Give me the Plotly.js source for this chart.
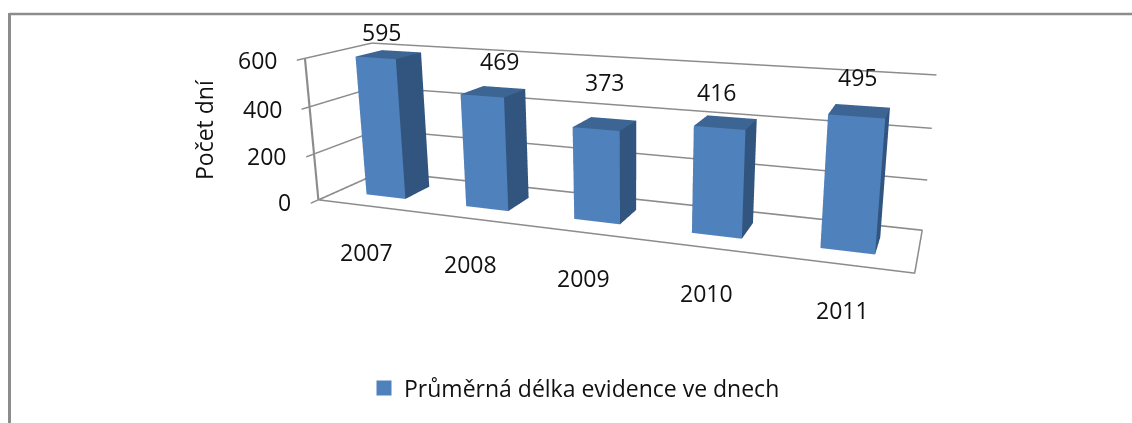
<!DOCTYPE html>
<html><head><meta charset="utf-8">
<script src="https://cdn.plot.ly/plotly-3.0.1.min.js"></script>
<style>html,body{margin:0;padding:0;background:#fff;overflow:hidden;width:1132px;height:423px}#c{position:absolute;left:0;top:-230px}</style></head>
<body><div id="c"></div>
<script>
const years = ['2007','2008','2009','2010','2011'];
const days = [595,469,373,416,495];
const seriesName = 'Průměrná délka evidence ve dnech';
const axisTitle = 'Počet dní';
const yTicks = [0,200,400,600];
const faceColor = '#4F81BD', sideColor = '#32557F', topColor = '#3C6594', lineColor = '#8C8C8C';
const fontFamily = 'Open Sans, Noto Sans, sans-serif', fontSize = 23;
const OY = 230, PW = 1140, PH = 790;
const hw = 0.1996, hd = 0.2045;
const px = x => x/PW, py = y => 1-(y+OY)/PH;
const X=[],Y=[],Z=[],I=[],J=[],K=[],FC=[];
days.forEach((v,n)=>{
  const b=X.length;
  [[-1,-1,0],[1,-1,0],[1,1,0],[-1,1,0],[-1,-1,1],[1,-1,1],[1,1,1],[-1,1,1]].forEach(p=>{
    X.push(n+p[0]*hw);Y.push(p[1]*hd);Z.push(p[2]*v);
  });
  const quad=(a,c,d,e,col)=>{I.push(b+a,b+a);J.push(b+c,b+d);K.push(b+d,b+e);FC.push(col,col);};
  quad(0,1,5,4,faceColor); quad(1,2,6,5,sideColor); quad(4,5,6,7,topColor); quad(0,3,7,4,sideColor); quad(3,2,6,7,sideColor); quad(0,1,2,3,sideColor);
});
const xr=[-0.5,4.5], yr=[-0.5,0.5], zr=[0,600];
const inset=0.004;
const fx=[xr[0]+inset,xr[1]-inset], fy=[yr[0]+inset,yr[1]-inset];
const bars={type:'mesh3d',x:X,y:Y,z:Z,i:I,j:J,k:K,facecolor:FC,flatshading:true,
  lighting:{ambient:1,diffuse:0,specular:0,roughness:1,fresnel:0},hoverinfo:'skip',showscale:false,showlegend:false};
const frame={type:'scatter3d',mode:'lines',hoverinfo:'skip',showlegend:false,line:{color:lineColor,width:3},
  x:[fx[0],fx[1],fx[1],fx[0],fx[0],fx[0]],y:[fy[0],fy[0],fy[1],fy[1],fy[0],fy[0]],z:[0,0,0,0,0,zr[1]]};
const legendItem={type:'scatter',mode:'markers',x:[null],y:[null],name:seriesName,hoverinfo:'skip',
  marker:{symbol:'square',size:15,color:faceColor}};
const labelShift=[[-7,23],[6,31],[0,42],[-9,31],[-2,35]];
const axisStyle={title:{text:''},showbackground:false,zeroline:false,showspikes:false};
const sceneText=(x,y,z,text,xanchor,xshift,yshift)=>({x,y,z,text,xanchor,yanchor:'middle',xshift,yshift,showarrow:false,font:{size:fontSize}});
const layout={width:PW,height:PH,margin:{l:0,r:0,t:0,b:0},paper_bgcolor:'#fff',plot_bgcolor:'#fff',
 font:{family:fontFamily,size:fontSize,color:'#111'},showlegend:true,
 xaxis:{visible:false},yaxis:{visible:false},
 legend:{x:px(364),xanchor:'left',y:py(388),yanchor:'middle',bgcolor:'rgba(0,0,0,0)',font:{size:fontSize}},
 shapes:[
  {type:'line',xref:'paper',yref:'paper',x0:px(9.5),x1:1,y0:py(14),y1:py(14),line:{color:lineColor,width:2.5}},
  {type:'line',xref:'paper',yref:'paper',x0:px(9.5),x1:px(9.5),y0:py(13),y1:0,line:{color:lineColor,width:3}}],
 annotations:[{xref:'paper',yref:'paper',x:px(204),y:py(130),xanchor:'center',yanchor:'middle',text:axisTitle,textangle:-90,showarrow:false,font:{size:fontSize}}],
 scene:{domain:{x:[px(132.77),px(1132.77)],y:[py(552.7545),py(-221.556)]},aspectmode:'manual',aspectratio:{x:2.6,y:0.4954,z:0.6445},
  camera:{eye:{x:1.398,y:-3.5645,z:0.9657},center:{x:-0.0803,y:0.5756,z:-0.2598},up:{x:0,y:0,z:1},projection:{type:'perspective'}},
  xaxis:{...axisStyle,tickvals:years.map((_,i)=>i),range:xr,showgrid:false,showline:false,showticklabels:false,ticks:''},
  yaxis:{...axisStyle,range:yr,showticklabels:false,showgrid:false,showline:false,ticks:''},
  zaxis:{...axisStyle,range:zr,tickvals:yTicks,showticklabels:false,gridcolor:lineColor,gridwidth:3,showline:true,linecolor:lineColor,linewidth:3,ticks:'outside',ticklen:8,tickcolor:lineColor,tickwidth:3},
  annotations:[
   ...days.map((v,i)=>sceneText(i,0,v,String(v),'center',labelShift[i][0],labelShift[i][1])),
   ...years.map((y,i)=>sceneText(i,yr[0],0,y,'center',0,-45)),
   ...yTicks.map(t=>sceneText(xr[0],yr[0],t,String(t),'right',-25,-1))
  ]
 }};
Plotly.newPlot('c',[bars,frame,legendItem],layout,{displayModeBar:false});
</script></body></html>
